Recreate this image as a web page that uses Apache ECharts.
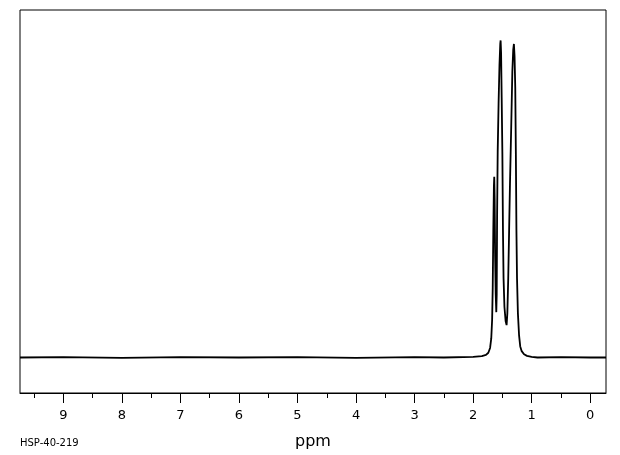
<!DOCTYPE html>
<html>
<head>
<meta charset="utf-8">
<script src="https://cdn.jsdelivr.net/npm/echarts@6/dist/echarts.min.js"></script>
<style>
html,body{margin:0;padding:0;background:#fff;}
#chart{width:620px;height:455px;}
</style>
</head>
<body>
<div id="chart"></div>
<script>
// Chemical shift (ppm) and relative intensity
var spectrumPpm = [9.74, 9.0, 8.0, 7.0, 6.0, 5.0, 4.0, 3.0, 2.5, 2.0, 1.85, 1.78, 1.74, 1.71, 1.69, 1.675, 1.665, 1.655, 1.645, 1.639, 1.632, 1.624, 1.614, 1.604, 1.597, 1.590, 1.580, 1.565, 1.550, 1.536, 1.530, 1.522, 1.512, 1.500, 1.490, 1.480, 1.465, 1.445, 1.428, 1.415, 1.400, 1.385, 1.370, 1.350, 1.330, 1.315, 1.303, 1.292, 1.280, 1.270, 1.260, 1.250, 1.235, 1.215, 1.195, 1.170, 1.130, 1.08, 1.0, 0.9, 0.5, 0.0, -0.27];
var spectrumIntensity = [0, 0.1, -0.1, 0.1, 0, 0.1, -0.1, 0.1, 0, 0.2, 0.4, 0.8, 1.5, 3, 6, 12, 22, 40, 54, 57, 50, 32, 20, 14.3, 20, 45, 65, 80, 92, 99, 100, 96, 82, 64, 40, 25, 16, 11.5, 10.2, 14, 25, 40, 55, 72, 90, 97, 98.9, 95, 85, 65, 40, 25, 14, 7, 3.5, 2, 1, 0.5, 0.2, 0, 0.1, 0, 0];
var majorTicks = [0, 1, 2, 3, 4, 5, 6, 7, 8, 9];
var minorTicks = [0.5, 1.5, 2.5, 3.5, 4.5, 5.5, 6.5, 7.5, 8.5, 9.5];
var xLabel = 'ppm';
var sampleId = 'HSP-40-219';

var seriesData = spectrumPpm.map(function (p, i) { return [p, spectrumIntensity[i]]; });
var X_MIN = -0.27, X_MAX = 9.74;
var FONT = 'DejaVu Sans';

var chart = echarts.init(document.getElementById('chart'), null, {renderer: 'canvas'});
chart.setOption({
  animation: false,
  backgroundColor: '#ffffff',
  grid: {left: 20, right: 14, top: 10, bottom: 62, show: true, borderColor: '#000', borderWidth: 1, backgroundColor: 'transparent', containLabel: false, outerBoundsMode: 'none'},
  xAxis: [{
    type: 'value', inverse: true, min: X_MIN, max: X_MAX, gridIndex: 0,
    axisLine: {show: true, onZero: false, lineStyle: {color: '#000', width: 1}},
    axisTick: {show: true, length: 10, lineStyle: {color: '#000'}, customValues: majorTicks},
    axisLabel: {show: true, margin: 16, color: '#000', fontFamily: FONT, fontSize: 13, customValues: majorTicks,
      formatter: function (v) { return String(v); }},
    splitLine: {show: false},
    name: xLabel, nameLocation: 'middle', nameGap: 41,
    nameTextStyle: {color: '#000', fontFamily: FONT, fontSize: 16}
  }, {
    type: 'value', inverse: true, min: X_MIN, max: X_MAX, gridIndex: 0, position: 'bottom',
    axisLine: {show: false, onZero: false},
    axisTick: {show: true, length: 5, lineStyle: {color: '#000'}, customValues: minorTicks},
    axisLabel: {show: false},
    splitLine: {show: false}
  }],
  yAxis: {type: 'value', min: -11.2, max: 109.6, show: false, splitLine: {show: false}},
  graphic: [{type: 'text', left: 20, top: 438, style: {text: sampleId, fill: '#000', font: '10px "DejaVu Sans"'}}],
  series: [{
    type: 'line', xAxisIndex: 0, data: seriesData, showSymbol: false, symbol: 'none',
    lineStyle: {color: '#000', width: 1.8}, silent: true
  }]
});
</script>
</body>
</html>
